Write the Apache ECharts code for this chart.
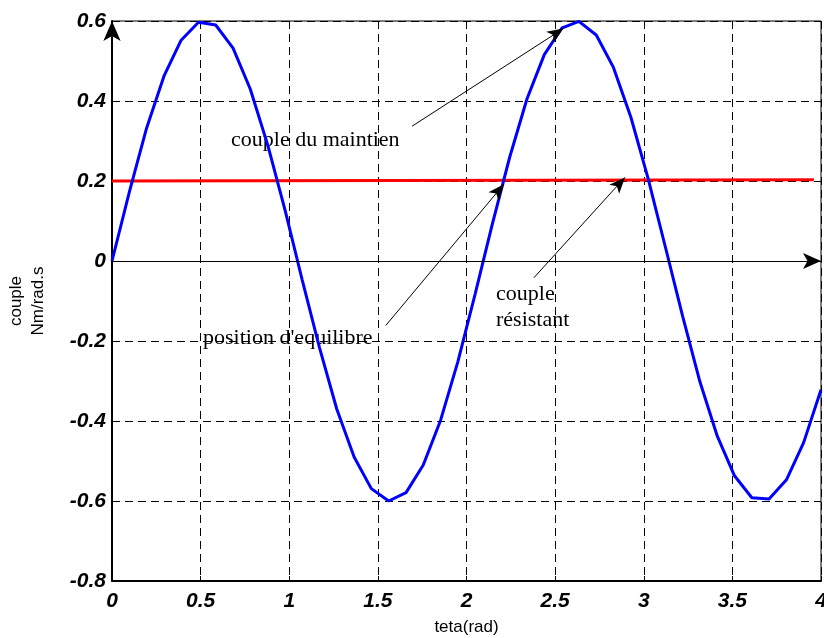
<!DOCTYPE html>
<html>
<head>
<meta charset="utf-8">
<script src="https://cdn.jsdelivr.net/npm/echarts@6/dist/echarts.min.js"></script>
<style>
  html, body { margin: 0; padding: 0; background: #fff; }
  #main { width: 824px; height: 638px; }
</style>
</head>
<body>
<div id="main"></div>
<script>
// couple (blue)
var tetaCouple = [0, 0.098, 0.195, 0.293, 0.390, 0.488, 0.585, 0.683, 0.780, 0.878,
  0.976, 1.073, 1.171, 1.268, 1.366, 1.463, 1.561, 1.659, 1.756, 1.854,
  1.951, 2.049, 2.146, 2.244, 2.341, 2.439, 2.537, 2.634, 2.732, 2.829,
  2.927, 3.024, 3.122, 3.220, 3.317, 3.415, 3.512, 3.610, 3.707, 3.805,
  3.902, 4.0]
var valCouple = [0, 0.173, 0.332, 0.462, 0.552, 0.597, 0.590, 0.532, 0.430, 0.291,
  0.128, -0.047, -0.217, -0.370, -0.490, -0.569, -0.600, -0.579, -0.510, -0.398,
  -0.252, -0.082, 0.093, 0.260, 0.405, 0.516, 0.582, 0.599, 0.565, 0.484,
  0.360, 0.207, 0.035, -0.139, -0.302, -0.438, -0.537, -0.592, -0.595, -0.547,
  -0.454, -0.322]

// couple résistant (red)
var tetaResist = [0, 3.96]
var valResist = [0.2, 0.203]

var xTicks = ['0', '0.5', '1', '1.5', '2', '2.5', '3', '3.5', '4']
var yTicks = ['-0.8', '-0.6', '-0.4', '-0.2', '0', '0.2', '0.4', '0.6']

// annotation arrows: from text to the curve
var arrowFrom = [[1.693, 0.337], [1.545, -0.161], [2.380, -0.042]]
var arrowTo = [[2.546, 0.581], [2.211, 0.192], [2.894, 0.209]]

var blueData = []
for (var i = 0; i < tetaCouple.length; i++) blueData.push([tetaCouple[i], valCouple[i]])
var redData = []
for (var j = 0; j < tetaResist.length; j++) redData.push([tetaResist[j], valResist[j]])

var arrowLines = []
for (var k = 0; k < arrowFrom.length; k++) {
  arrowLines.push([{ coord: arrowFrom[k] }, { coord: arrowTo[k] }])
}

var tickFont = {
  color: '#000',
  fontFamily: 'Liberation Sans, Arial, sans-serif',
  fontStyle: 'italic',
  fontWeight: 'bold',
  fontSize: 21
}
var serif = 'Liberation Serif, Times New Roman, serif'

var chart = echarts.init(document.getElementById('main'))
var opt = {
  animation: false,
  grid: {
    left: 112,
    right: 3,
    top: 21,
    bottom: 57,
    show: true,
    borderColor: '#000',
    borderWidth: 1,
    containLabel: false,
    outerBoundsMode: 'none'
  },
  xAxis: {
    type: 'value',
    min: 0,
    max: 4,
    interval: 0.5,
    name: 'teta(rad)',
    nameLocation: 'middle',
    nameGap: 38,
    nameTextStyle: { color: '#000', fontSize: 17, fontFamily: 'Liberation Sans, Arial, sans-serif' },
    axisLine: { onZero: false, lineStyle: { color: '#000', width: 2 } },
    axisTick: { inside: true, length: 5, lineStyle: { color: '#000' } },
    axisLabel: Object.assign({ margin: 10, formatter: function (v, idx) { return xTicks[idx] } }, tickFont),
    splitLine: { show: true, lineStyle: { color: '#000', type: [8, 5], width: 1 } }
  },
  yAxis: {
    type: 'value',
    min: -0.8,
    max: 0.6,
    interval: 0.2,
    name: 'couple\nNm/rad.s',
    nameLocation: 'middle',
    nameGap: 63,
    nameTextStyle: { color: '#000', fontSize: 17, lineHeight: 22, fontFamily: 'Liberation Sans, Arial, sans-serif' },
    axisLine: {
      onZero: false,
      symbol: ['none', 'arrow'],
      symbolSize: [13, 20],
      lineStyle: { color: '#000', width: 2 }
    },
    axisTick: { inside: true, length: 5, lineStyle: { color: '#000' } },
    axisLabel: Object.assign({ margin: 6, formatter: function (v, idx) { return yTicks[idx] } }, tickFont),
    splitLine: { show: true, lineStyle: { color: '#000', type: [8, 5], width: 1 } }
  },
  series: [
    {
      name: 'couple',
      type: 'line',
      data: blueData,
      showSymbol: false,
      symbol: 'none',
      lineStyle: { color: '#0000ff', width: 3 },
      z: 3
    },
    {
      name: 'couple résistant',
      type: 'line',
      data: redData,
      showSymbol: false,
      symbol: 'none',
      lineStyle: { color: '#ff0000', width: 3 },
      z: 2,
      markLine: {
        silent: true,
        animation: false,
        label: { show: false },
        symbol: ['none', 'arrow'],
        symbolSize: [10, 16],
        lineStyle: { color: '#000', width: 1, type: 'solid' },
        data: arrowLines.concat([
          [{ coord: [0, 0], symbolSize: [12, 18] }, { coord: [4, 0], symbolSize: [12, 18] }]
        ])
      }
    }
  ],
  graphic: [
    { type: 'text', left: 231, top: 129, style: { text: 'couple du maintien', fill: '#000', font: '22px ' + serif } },
    { type: 'text', left: 203, top: 327, style: { text: "position d'equilibre", fill: '#000', font: '22px ' + serif } },
    { type: 'text', left: 496, top: 283, style: { text: 'couple', fill: '#000', font: '22px ' + serif } },
    { type: 'text', left: 496, top: 309, style: { text: 'résistant', fill: '#000', font: '22px ' + serif } }
  ]
}
chart.setOption(opt)
</script>
</body>
</html>
